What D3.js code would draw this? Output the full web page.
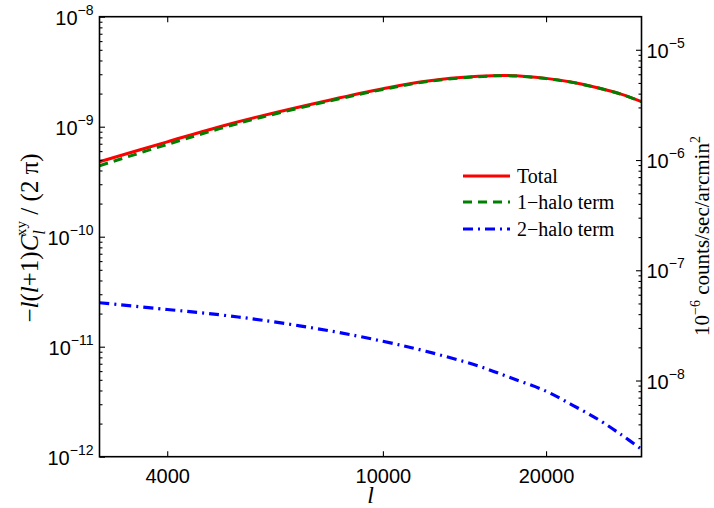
<!DOCTYPE html>
<html>
<head>
<meta charset="utf-8">
<script src="https://cdn.jsdelivr.net/npm/d3@7"></script>
<style>
  html, body { margin: 0; padding: 0; background: #fff; }
  svg { display: block; }
</style>
</head>
<body>
<svg id="chart" width="714" height="508"></svg>
<script>
// ---------------- data ----------------
const ells      = [3000, 4000, 5000, 6000, 8000, 10000, 12000, 15000, 17000, 20000, 22500, 25000, 27500, 30000];
const totalVals = [4.8e-10, 7.28e-10, 1.0e-9, 1.26e-9, 1.75e-9, 2.21e-9, 2.59e-9, 2.87e-9, 2.92e-9, 2.75e-9, 2.52e-9, 2.25e-9, 1.98e-9, 1.69e-9];
const oneHalo   = [4.42e-10, 6.9e-10, 9.6e-10, 1.225e-9, 1.72e-9, 2.18e-9, 2.565e-9, 2.85e-9, 2.905e-9, 2.74e-9, 2.515e-9, 2.245e-9, 1.975e-9, 1.688e-9];
const twoHalo   = [2.51e-11, 2.18e-11, 1.95e-11, 1.74e-11, 1.39e-11, 1.12e-11, 9.1e-12, 6.68e-12, 5.33e-12, 3.94e-12, 2.9e-12, 2.17e-12, 1.59e-12, 1.17e-12];
const xTickVals = [4000, 10000, 20000];
const leftTickExps  = [-12, -11, -10, -9, -8];
const rightTickExps = [-8, -7, -6, -5];
const seriesNames = ["Total", "1\u2212halo term", "2\u2212halo term"];

// ---------------- layout ----------------
const L = 99.5, R = 641.5, T = 16.7, B = 456.7;
const svg = d3.select("#chart");
const x  = d3.scaleLog().domain([3000, 30000]).range([L, R]);
const yL = d3.scaleLog().domain([1e-12, 1e-8]).range([B, T]);
const yR = d3.scaleLog().domain([Math.pow(10, -8.691), Math.pow(10, -4.7)]).range([B, T]);

const tickFont = "'Liberation Sans', Arial, Helvetica, sans-serif";
const serif = "'Liberation Serif', 'Times New Roman', Times, serif";

// ---------------- curves ----------------
const line = d3.line().x(d => x(d[0])).y(d => yL(d[1])).curve(d3.curveCatmullRom.alpha(0.5));
const plotG = svg.append("g");
svg.append("clipPath").attr("id", "clip").append("rect")
  .attr("x", L).attr("y", T).attr("width", R - L).attr("height", B - T);
plotG.attr("clip-path", "url(#clip)");

const styles = [
  {vals: totalVals, color: "#ff0000", dash: null, w: 3},
  {vals: oneHalo,   color: "#008000", dash: "9,6", w: 3},
  {vals: twoHalo,   color: "#0000ff", dash: "10,5,2,5", w: 3.2}
];
[2, 0, 1].forEach(i => {
  const s = styles[i];
  plotG.append("path")
    .datum(ells.map((l, k) => [l, s.vals[k]]))
    .attr("d", line)
    .attr("fill", "none")
    .attr("stroke", s.color)
    .attr("stroke-width", s.w)
    .attr("stroke-dasharray", s.dash);
});

// ---------------- axes ----------------
const axG = svg.append("g");
axG.append("rect").attr("x", L).attr("y", T).attr("width", R - L).attr("height", B - T)
  .attr("fill", "none").attr("stroke", "#000").attr("stroke-width", 1.6);

function cleanAxis(g) { g.select(".domain").remove(); g.selectAll("line").attr("stroke-width", 1.1); }

const xAxis = d3.axisBottom(x).tickValues(xTickVals).tickSize(-5.5).tickPadding(12)
  .tickFormat(d3.format("d"));
const gx = axG.append("g").attr("transform", `translate(0,${B})`).call(xAxis).call(cleanAxis);
gx.selectAll("text").attr("font-family", tickFont).attr("font-size", 20).attr("fill", "#000");
axG.append("g").attr("transform", `translate(0,${T})`)
  .call(d3.axisTop(x).tickValues(xTickVals).tickSize(-5.5).tickFormat(""))
  .call(cleanAxis);

function minorVals(lo, hi) {
  const out = [];
  for (let e = lo; e < hi; e++) for (let m = 2; m <= 9; m++) out.push(m * Math.pow(10, e));
  return out;
}
axG.append("g").attr("transform", `translate(${L},0)`)
  .call(d3.axisLeft(yL).tickValues(leftTickExps.map(e => Math.pow(10, e))).tickSize(-5.5).tickFormat(""))
  .call(cleanAxis);
axG.append("g").attr("transform", `translate(${L},0)`)
  .call(d3.axisLeft(yL).tickValues(minorVals(-12, -8)).tickSize(-3).tickFormat(""))
  .call(cleanAxis);
axG.append("g").attr("transform", `translate(${R},0)`)
  .call(d3.axisRight(yR).tickValues(rightTickExps.map(e => Math.pow(10, e))).tickSize(-5.5).tickFormat(""))
  .call(cleanAxis);
axG.append("g").attr("transform", `translate(${R},0)`)
  .call(d3.axisRight(yR).tickValues(minorVals(-9, -4).filter(v => v >= yR.domain()[0] && v <= yR.domain()[1])).tickSize(-3).tickFormat(""))
  .call(cleanAxis);

function powLabel(g, xPos, yPos, exp, anchor) {
  const t = g.append("text").attr("x", xPos).attr("y", yPos)
    .attr("font-family", tickFont).attr("font-size", 20).attr("fill", "#000")
    .attr("text-anchor", anchor);
  t.append("tspan").text("10");
  t.append("tspan").attr("dy", -10).attr("font-size", 14).text("\u2212" + Math.abs(exp));
}
leftTickExps.forEach(e => powLabel(axG, L - 6, yL(Math.pow(10, e)) + 8, e, "end"));
rightTickExps.forEach(e => powLabel(axG, R + 5, yR(Math.pow(10, e)) + 8, e, "start"));

// axis titles
svg.append("text").attr("x", (L + R) / 2).attr("y", 503)
  .attr("text-anchor", "middle").attr("font-family", serif).attr("font-style", "italic")
  .attr("font-size", 24).text("l");

const yt = svg.append("text").attr("transform", "translate(38,238) rotate(-90)")
  .attr("text-anchor", "middle").attr("font-family", serif).attr("font-size", 25).attr("fill", "#000");
yt.append("tspan").text("\u2212");
yt.append("tspan").attr("font-style", "italic").text("l");
yt.append("tspan").text("(");
yt.append("tspan").attr("font-style", "italic").text("l");
yt.append("tspan").text("+1)");
yt.append("tspan").attr("font-style", "italic").text("C");
yt.append("tspan").attr("font-style", "italic").attr("font-size", 17).attr("dy", 7).text("l");
yt.append("tspan").attr("font-size", 15).attr("dx", -6).attr("dy", -19).text("xy");
yt.append("tspan").attr("dy", 12).text(" / (2 \u03c0)");

const rt = svg.append("text").attr("transform", "translate(709,236) rotate(-90)")
  .attr("text-anchor", "middle").attr("font-family", serif).attr("font-size", 21).attr("fill", "#000");
rt.append("tspan").text("10");
rt.append("tspan").attr("font-size", 14).attr("dy", -9).text("\u22126");
rt.append("tspan").attr("dy", 9).text(" counts/sec/arcmin");
rt.append("tspan").attr("font-size", 14).attr("dy", -9).text("2");

// legend
const legY = [176, 202, 229];
const lg = svg.append("g");
seriesNames.forEach((name, i) => {
  const s = styles[i];
  lg.append("line").attr("x1", 463).attr("x2", 510).attr("y1", legY[i]).attr("y2", legY[i])
    .attr("stroke", s.color).attr("stroke-width", s.w).attr("stroke-dasharray", s.dash);
  lg.append("text").attr("x", 517).attr("y", legY[i] + 7)
    .attr("font-family", serif).attr("font-size", 20).attr("fill", "#000").text(name);
});
</script>
</body>
</html>
